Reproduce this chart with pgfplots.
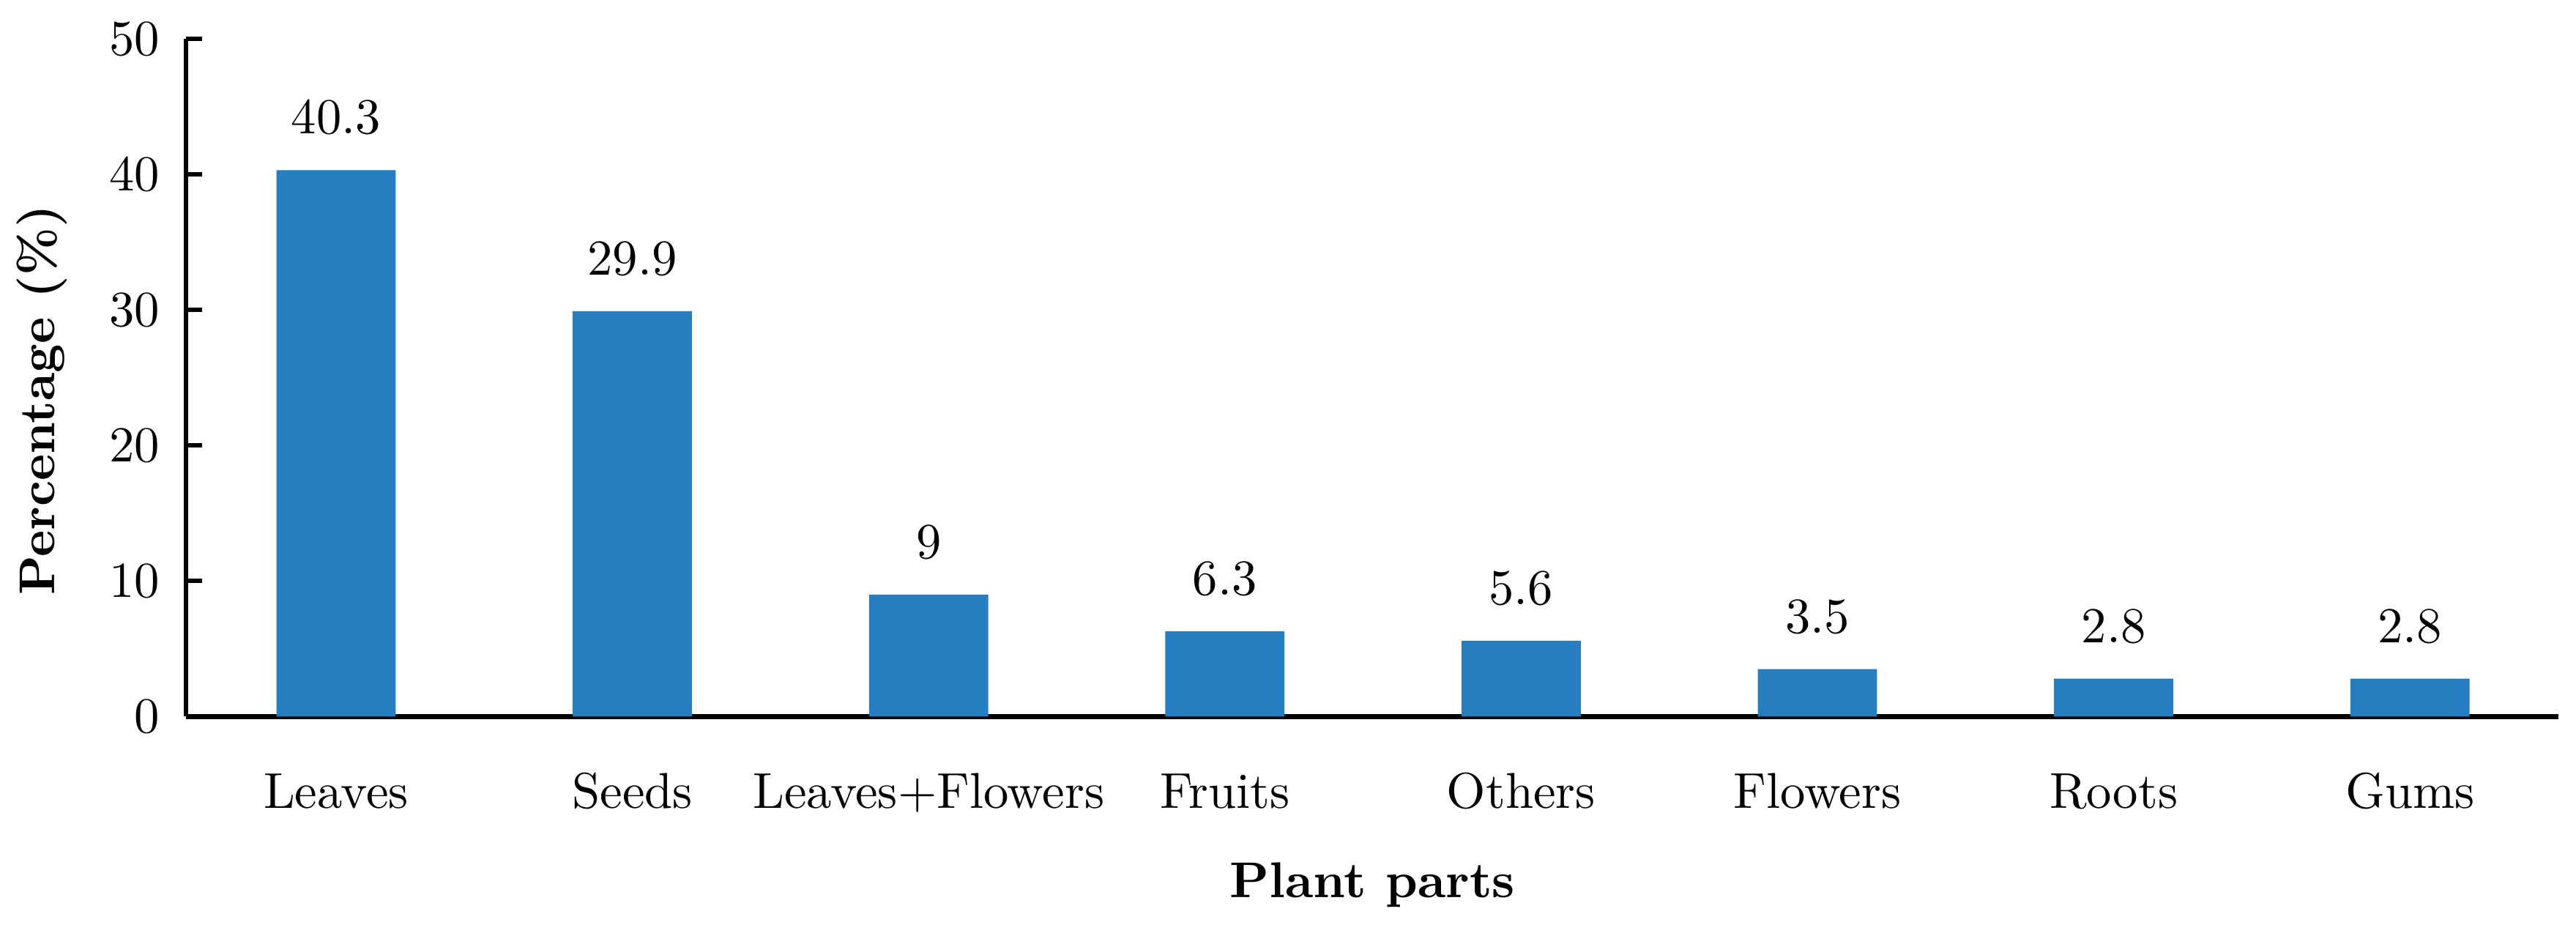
\documentclass[border=0pt]{standalone}
\usepackage{pgfplots}
\pgfplotsset{compat=1.18}
\definecolor{barblue}{RGB}{38,125,192}
\begin{document}
\begin{tikzpicture}
\begin{axis}[
  scale only axis,
  width=471.5pt, height=134.7pt,
  ymin=0, ymax=50,
  xmin=-0.506, xmax=7.501,
  ytick={0,10,20,30,40,50},
  xtick={0,1,2,3,4,5,6,7},
  xticklabels={Leaves,Seeds,Leaves+Flowers,Fruits,Others,Flowers,Roots,Gums},
  axis x line*=bottom, axis y line*=left,
  axis line style={black, line width=0.9pt, -},
  tick align=inside,
  major tick length=3.2pt,
  y tick style={black, line width=0.9pt},
  x tick style={draw=none},
  yticklabel style={xshift=-1.7pt},
  xticklabel style={anchor=base, yshift=-18.2pt},
  xlabel={\bfseries Plant parts},
  ylabel={\bfseries Percentage (\%)},
  every axis x label/.style={at={(axis description cs:0.5,-0.2665)}, anchor=base},
  every axis y label/.style={at={(axis description cs:-0.0608,0.467)}, rotate=90, anchor=center},
  nodes near coords,
  every node near coord/.append style={anchor=base, yshift=7.2pt, black},
  /pgf/number format/assume math mode=true,
]
\addplot[ybar, bar width=23.7pt, fill=barblue, draw=none] coordinates {
  (0,40.3) (1,29.9) (2,9) (3,6.3) (4,5.6) (5,3.5) (6,2.8) (7,2.8)
};
\coordinate (bl) at (rel axis cs:0,0);
\coordinate (tr) at (rel axis cs:1,1);
\end{axis}
\path ([xshift=-36.3pt,yshift=-41.4pt]bl) ([xshift=3.5pt,yshift=7.7pt]tr);
\end{tikzpicture}
\end{document}
